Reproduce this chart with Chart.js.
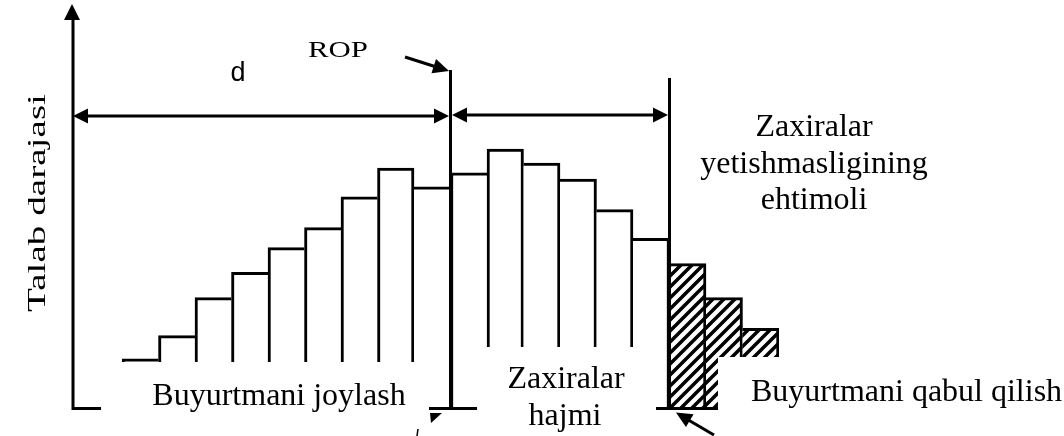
<!DOCTYPE html>
<html>
<head>
<meta charset="utf-8">
<script src="https://cdn.jsdelivr.net/npm/chart.js@4.4.1/dist/chart.umd.min.js"></script>
<style>
html,body{margin:0;padding:0;background:#fff;}
#wrap{width:1064px;height:436px;position:relative;}
canvas{display:block;}
</style>
</head>
<body>
<div id="wrap"><canvas id="c" width="1064" height="436"></canvas></div>
<script>
// Categories (time periods) and demand levels
const periods = ['1','2','3','4','5','6','7','8','9','10','11','12','13','14','15','16','17','18'];
const demandLevels = [12.3, 18.1, 27.6, 33.9, 40.1, 45.1, 52.8, 60.0, 55.3, 58.8, 64.7, 61.2, 57.2, 49.6, 42.4, 36.1, 27.6, 19.9];
// index of the bar right after the ROP line, and first index of the shortage (hatched) zone
const ropIndex = 9;
const shortageIndex = 15;
const yMax = 100;

const labels = {
  yTitle: 'Talab darajasi',
  d: 'd',
  rop: 'ROP',
  place: 'Buyurtmani joylash',
  stock: ['Zaxiralar', 'hajmi'],
  receive: 'Buyurtmani qabul qilish',
  shortage: ['Zaxiralar', 'yetishmasligining', 'ehtimoli']
};

function makeHatch() {
  const s = 11;
  const p = document.createElement('canvas');
  p.width = s; p.height = s;
  const g = p.getContext('2d');
  g.fillStyle = '#fff'; g.fillRect(0, 0, s, s);
  g.strokeStyle = '#000'; g.lineWidth = 3.5;
  g.beginPath();
  g.moveTo(-2, s + 2); g.lineTo(s + 2, -2);
  g.moveTo(-2, 2); g.lineTo(2, -2);
  g.moveTo(s - 2, s + 2); g.lineTo(s + 2, s - 2);
  g.stroke();
  return g.createPattern(p, 'repeat');
}

const hatch = makeHatch();
const n = demandLevels.length;

function arrowHead(ctx, tx, ty, fx, fy, len, half) {
  const a = Math.atan2(ty - fy, tx - fx);
  ctx.beginPath();
  ctx.moveTo(tx, ty);
  ctx.lineTo(tx - len * Math.cos(a) + half * Math.sin(a), ty - len * Math.sin(a) - half * Math.cos(a));
  ctx.lineTo(tx - len * Math.cos(a) - half * Math.sin(a), ty - len * Math.sin(a) + half * Math.cos(a));
  ctx.closePath();
  ctx.fill();
}
function line(ctx, x1, y1, x2, y2, w) {
  ctx.lineWidth = w || 3;
  ctx.beginPath(); ctx.moveTo(x1, y1); ctx.lineTo(x2, y2); ctx.stroke();
}
function arrowLine(ctx, x1, y1, x2, y2, both) {
  const len = 15, half = 7.5;
  const a = Math.atan2(y2 - y1, x2 - x1);
  const sx = both ? x1 + (len - 2) * Math.cos(a) : x1;
  const sy = both ? y1 + (len - 2) * Math.sin(a) : y1;
  line(ctx, sx, sy, x2 - (len - 2) * Math.cos(a), y2 - (len - 2) * Math.sin(a), 3);
  arrowHead(ctx, x2, y2, x1, y1, len, half);
  if (both) arrowHead(ctx, x1, y1, x2, y2, len, half);
}
// draw text stretched along its writing direction to a given width
function fitText(ctx, text, x, y, width) {
  const w = ctx.measureText(text).width;
  ctx.save();
  ctx.translate(x, y);
  ctx.scale(width / w, 1);
  ctx.textAlign = 'center';
  ctx.fillText(text, 0, 0);
  ctx.restore();
}

const overlay = {
  id: 'overlay',
  afterDatasetsDraw(chart) {
    const ctx = chart.ctx;
    const xs = chart.scales.x, ys = chart.scales.y;
    const base = ys.getPixelForValue(0) + 0.5;
    const step = xs.getPixelForValue(1) - xs.getPixelForValue(0);
    const ropX = xs.getPixelForValue(ropIndex) - step / 2;
    const shortX = xs.getPixelForValue(shortageIndex) - step / 2;
    const axisX = 73;
    ctx.save();
    ctx.strokeStyle = '#000'; ctx.fillStyle = '#000';
    ctx.lineCap = 'butt';
    // axes
    line(ctx, axisX, base, shortX + 50, base, 3);
    line(ctx, axisX, base + 1.5, axisX, 16, 3);
    arrowHead(ctx, axisX - 1, 4, axisX - 1, 40, 16, 8);
    // ROP & shortage boundary verticals
    line(ctx, ropX, base, ropX, 70, 3);
    line(ctx, shortX, base, shortX, 78, 3);
    // dimension lines
    arrowLine(ctx, axisX, 116, ropX - 1.5, 116, true);
    arrowLine(ctx, ropX + 1.5, 115, shortX - 1.5, 115, true);
    // ROP pointer
    line(ctx, 405, 57, 438, 67.5, 3);
    arrowHead(ctx, 449, 71, 405, 57, 16, 7.5);
    // white label boxes
    ctx.fillStyle = '#fff';
    ctx.fillRect(101, 362, 328, 80);
    ctx.fillRect(477, 347, 179, 95);
    ctx.fillRect(718, 357, 346, 85);
    ctx.fillStyle = '#000';
    // base tick of ROP line
    line(ctx, 429, base, 477, base, 3);
    // stray arrowhead under ROP
    ctx.beginPath(); ctx.moveTo(430, 413); ctx.lineTo(442, 413); ctx.lineTo(431, 423); ctx.closePath(); ctx.fill();
    line(ctx, 418, 429, 417, 436, 1.5);
    // receiving pointer
    line(ctx, 714, 435, 685, 418, 3);
    arrowHead(ctx, 676, 412.5, 714, 435, 16, 7.5);
    // texts
    ctx.textBaseline = 'alphabetic';
    ctx.font = '32px "Liberation Serif", "Times New Roman", serif';
    ctx.textAlign = 'center';
    ctx.fillText(labels.place, 279, 405);
    ctx.fillText(labels.stock[0], 566, 388);
    ctx.fillText(labels.stock[1], 565, 425);
    labels.shortage.forEach((t, i) => ctx.fillText(t, 814, 136 + i * 36.5));
    ctx.textAlign = 'left';
    ctx.fillText(labels.receive, 751, 401);
    ctx.font = '24px "Liberation Serif", "Times New Roman", serif';
    fitText(ctx, labels.rop, 338, 57, 60);
    ctx.font = '27px "Liberation Sans", Arial, sans-serif';
    ctx.textAlign = 'center';
    ctx.fillText(labels.d, 238, 81);
    // y title
    ctx.save();
    ctx.translate(45, 203);
    ctx.rotate(-Math.PI / 2);
    ctx.font = '25px "Liberation Serif", "Times New Roman", serif';
    fitText(ctx, labels.yTitle, 0, 0, 218);
    ctx.restore();
    ctx.restore();
  }
};

new Chart(document.getElementById('c'), {
  type: 'bar',
  data: {
    labels: periods,
    datasets: [{
      data: demandLevels,
      backgroundColor: c => c.dataIndex >= shortageIndex ? hatch : '#ffffff',
      borderColor: '#000',
      borderSkipped: false,
      borderWidth: c => {
        const i = c.dataIndex, v = demandLevels;
        return {
          top: 3,
          bottom: 0,
          left: (i === 0 || v[i] >= v[i - 1]) ? 3 : 0,
          right: (i === n - 1 || v[i] > v[i + 1]) ? 3 : 0
        };
      },
      barPercentage: 1,
      categoryPercentage: 1
    }]
  },
  options: {
    responsive: false,
    animation: false,
    layout: { padding: { left: 122, right: 285, top: 8, bottom: 28 } },
    plugins: { legend: { display: false }, tooltip: { enabled: false } },
    scales: {
      x: { display: false },
      y: { display: false, min: 0, max: yMax }
    }
  },
  plugins: [overlay]
});
</script>
</body>
</html>
